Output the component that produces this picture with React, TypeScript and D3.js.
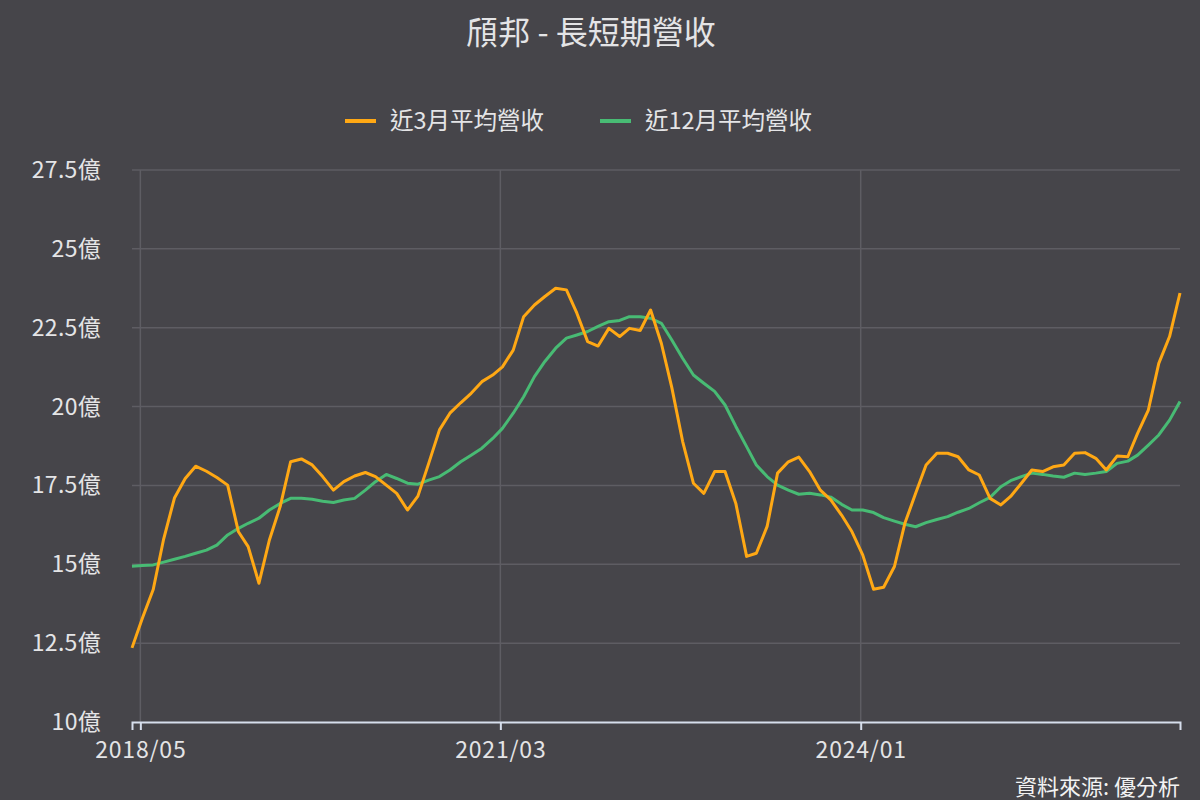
import { useEffect, useRef } from 'react';
import * as d3 from 'd3';

const title = '頎邦 - 長短期營收';
const source = '資料來源: 優分析';

// monthly points, first one is 2018/04
const firstMonth = '2018/04';

const avg3m = [
  12.35, 13.3, 14.2, 15.8, 17.1, 17.72, 18.11, 17.95, 17.75, 17.51,
  16.03, 15.56, 14.4, 15.77, 16.83, 18.25, 18.34, 18.15, 17.78, 17.35,
  17.62, 17.8, 17.91, 17.78, 17.51, 17.25, 16.72, 17.16, 18.2, 19.26,
  19.79, 20.12, 20.42, 20.79, 21.0, 21.26, 21.79, 22.85, 23.22, 23.49,
  23.75, 23.7, 22.96, 22.06, 21.92, 22.48, 22.22, 22.48, 22.41, 23.06,
  22.0, 20.6, 18.9, 17.57, 17.25, 17.94, 17.94, 16.93, 15.25, 15.35,
  16.2, 17.89, 18.25, 18.4, 17.94, 17.35, 17.04, 16.56, 16.03, 15.29,
  14.21, 14.27, 14.93, 16.3, 17.25, 18.15, 18.52, 18.52, 18.41, 17.99,
  17.83, 17.09, 16.88, 17.15, 17.57, 17.99, 17.94, 18.09, 18.15, 18.52,
  18.54, 18.36, 17.99, 18.43, 18.41, 19.15, 19.89, 21.37, 22.22, 23.6,
];

const avg12m = [
  14.94, 14.96, 14.98, 15.07, 15.16, 15.25, 15.35, 15.45, 15.61, 15.93,
  16.14, 16.3, 16.46, 16.72, 16.93, 17.09, 17.09, 17.06, 17.0, 16.96,
  17.04, 17.09, 17.35, 17.62, 17.85, 17.72, 17.57, 17.54, 17.67, 17.78,
  17.99, 18.25, 18.46, 18.68, 18.99, 19.31, 19.79, 20.31, 20.95, 21.43,
  21.85, 22.17, 22.27, 22.38, 22.54, 22.69, 22.73, 22.85, 22.85, 22.8,
  22.64, 22.11, 21.53, 21.0, 20.74, 20.48, 20.05, 19.37, 18.73, 18.15,
  17.78, 17.51, 17.35, 17.22, 17.25, 17.2, 17.13, 16.9, 16.72, 16.72,
  16.64, 16.48, 16.37, 16.27, 16.19, 16.32, 16.42, 16.51, 16.65, 16.77,
  16.95, 17.12, 17.46, 17.65, 17.78, 17.89, 17.85, 17.8, 17.76, 17.89,
  17.85, 17.89, 17.94, 18.2, 18.27, 18.46, 18.78, 19.1, 19.57, 20.16,
];

const xTickLabels = ['2018/05', '2021/03', '2024/01'];
const yTicks = [10, 12.5, 15, 17.5, 20, 22.5, 25, 27.5];

const seriesInfo = [
  { name: '近3月平均營收', values: avg3m, color: '#FFA814' },
  { name: '近12月平均營收', values: avg12m, color: '#48BB74' },
];

const W = 1200;
const H = 800;
const FONT = '"Noto Sans CJK TC", "Noto Sans", sans-serif';

export default function App() {
  const svgRef = useRef<SVGSVGElement>(null);

  useEffect(() => {
    if (!svgRef.current) return;
    const svg = d3.select(svgRef.current);
    svg.selectAll('*').remove();

    const margin = { top: 170, right: 20, bottom: 78, left: 132 };
    const innerW = W - margin.left - margin.right;
    const innerH = H - margin.top - margin.bottom;

    svg.append('rect').attr('width', W).attr('height', H).attr('fill', '#46454A');

    const parseMonth = d3.timeParse('%Y/%m');
    const start = parseMonth(firstMonth) as Date;
    // revenue points sit around the 7th of each month
    const dates = avg3m.map((_, i) => d3.timeDay.offset(d3.timeMonth.offset(start, i), 6));

    const x = d3.scaleTime()
      .domain([dates[0], dates[dates.length - 1]])
      .range([0, innerW]);
    const y = d3.scaleLinear().domain([10, 27.5]).range([innerH, 0]);

    const g = svg.append('g').attr('transform', `translate(${margin.left},${margin.top})`);

    // horizontal grid
    g.selectAll('.hgrid')
      .data(yTicks.filter(d => d > 10))
      .enter()
      .append('line')
      .attr('x1', 0)
      .attr('x2', innerW)
      .attr('y1', d => y(d))
      .attr('y2', d => y(d))
      .attr('stroke', '#5E5D63')
      .attr('stroke-width', 1.5);

    const tickDates = xTickLabels.map(t => parseMonth(t) as Date);

    // vertical grid
    g.selectAll('.vgrid')
      .data(tickDates)
      .enter()
      .append('line')
      .attr('x1', d => x(d))
      .attr('x2', d => x(d))
      .attr('y1', 0)
      .attr('y2', innerH)
      .attr('stroke', '#5E5D63')
      .attr('stroke-width', 1.5);

    // y labels
    g.selectAll('.ylab')
      .data(yTicks)
      .enter()
      .append('text')
      .attr('x', -31)
      .attr('y', d => y(d))
      .attr('dy', '0.35em')
      .attr('text-anchor', 'end')
      .attr('fill', '#E4E4E6')
      .style('font-family', FONT)
      .style('font-size', '23px')
      .style('letter-spacing', '0.3px')
      .text(d => `${d}億`);

    // x axis
    const xAxis = g.append('g')
      .attr('transform', `translate(0,${innerH})`)
      .call(
        d3.axisBottom(x)
          .tickValues(tickDates)
          .tickSize(8)
          .tickFormat(d3.timeFormat('%Y/%m') as never)
      );
    xAxis.select('.domain').attr('stroke', '#D6DEEC').attr('stroke-width', 2);
    xAxis.selectAll('.tick line').attr('stroke', '#D6DEEC').attr('stroke-width', 2);
    xAxis.selectAll('text')
      .attr('y', 20)
      .attr('dy', '0.71em')
      .style('font-family', FONT)
      .style('font-size', '23px')
      .style('letter-spacing', '0.8px')
      .style('fill', '#E4E4E6');

    // lines
    seriesInfo.slice().reverse().forEach(s => {
      const line = d3.line<number>()
        .x((_, i) => x(dates[i]))
        .y(d => y(d));
      g.append('path')
        .datum(s.values)
        .attr('fill', 'none')
        .attr('stroke', s.color)
        .attr('stroke-width', 3)
        .attr('stroke-linejoin', 'round')
        .attr('d', line);
    });

    // title
    svg.append('text')
      .attr('x', 591)
      .attr('y', 44)
      .attr('text-anchor', 'middle')
      .attr('fill', '#E4E4E6')
      .style('font-family', FONT)
      .style('font-size', '32px')
      .text(title);

    // legend
    const legendX = [345, 600];
    seriesInfo.forEach((s, i) => {
      const lg = svg.append('g').attr('transform', `translate(${legendX[i]},121)`);
      lg.append('line')
        .attr('x1', 0)
        .attr('x2', 31)
        .attr('stroke', s.color)
        .attr('stroke-width', 4);
      lg.append('text')
        .attr('x', 45)
        .attr('dy', '0.35em')
        .attr('fill', '#E4E4E6')
        .style('font-family', FONT)
        .style('font-size', '23.5px')
        .text(s.name);
    });

    // source
    svg.append('text')
      .attr('x', 1180)
      .attr('y', 795)
      .attr('text-anchor', 'end')
      .attr('fill', '#F2F2F2')
      .style('font-family', FONT)
      .style('font-size', '22px')
      .text(source);
  }, []);

  return (
    <svg
      ref={svgRef}
      width={W}
      height={H}
      style={{ position: 'absolute', left: 0, top: 0, display: 'block' }}
    />
  );
}
